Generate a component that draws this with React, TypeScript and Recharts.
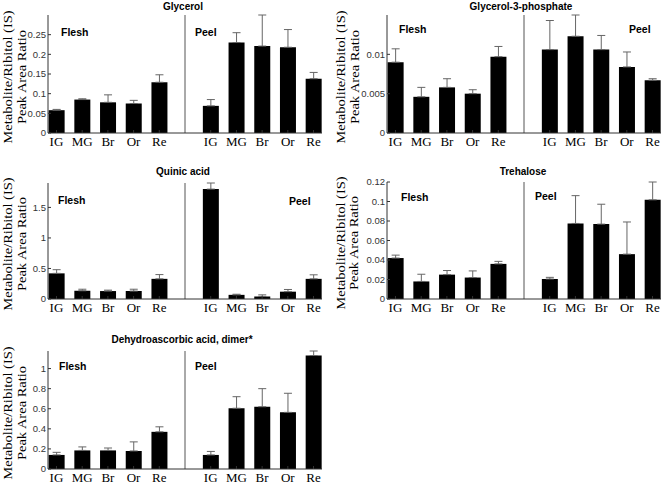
import React from 'react';
import { BarChart, Bar, XAxis, YAxis, ErrorBar, ReferenceLine } from 'recharts';

// cultivar stages, flesh on the left half, peel on the right half
const cultivars = ['IG', 'MG', 'Br', 'Or', 'Re'];
const fleshPos = [1, 2, 3, 4, 5];
const peelPos = [7, 8, 9, 10, 11];

// error bars that run off the top of a panel are cut at the frame
const glycerolFlesh = [0.058, 0.085, 0.078, 0.075, 0.129];
const glycerolFleshSd = [0.002, 0.002, 0.019, 0.008, 0.019];
const glycerolPeel = [0.069, 0.23, 0.221, 0.218, 0.138];
const glycerolPeelSd = [0.016, 0.025, 0.079, 0.045, 0.016];
const glycerolTicks = [0, 0.05, 0.1, 0.15, 0.2, 0.25];

const g3pFlesh = [0.009, 0.0046, 0.0058, 0.005, 0.0097];
const g3pFleshSd = [0.0017, 0.0012, 0.0011, 0.0005, 0.0013];
const g3pPeel = [0.0106, 0.0123, 0.0106, 0.0084, 0.0067];
const g3pPeelSd = [0.0037, 0.0027, 0.0018, 0.0019, 0.0002];
const g3pTicks = [0, 0.005, 0.01];

const quinicFlesh = [0.42, 0.135, 0.13, 0.13, 0.33];
const quinicFleshSd = [0.06, 0.025, 0.015, 0.03, 0.07];
const quinicPeel = [1.8, 0.068, 0.042, 0.12, 0.33];
const quinicPeelSd = [0.1, 0.01, 0.026, 0.036, 0.066];
const quinicTicks = [0, 0.5, 1, 1.5];

const trehaloseFlesh = [0.042, 0.018, 0.025, 0.022, 0.036];
const trehaloseFleshSd = [0.003, 0.0074, 0.0042, 0.0068, 0.0026];
const trehalosePeel = [0.0205, 0.0775, 0.0768, 0.046, 0.1017];
const trehalosePeelSd = [0.0017, 0.0285, 0.0204, 0.033, 0.0183];
const trehaloseTicks = [0, 0.02, 0.04, 0.06, 0.08, 0.1, 0.12];

const dhaFlesh = [0.14, 0.185, 0.185, 0.18, 0.37];
const dhaFleshSd = [0.026, 0.035, 0.024, 0.09, 0.05];
const dhaPeel = [0.14, 0.605, 0.62, 0.564, 1.13];
const dhaPeelSd = [0.035, 0.115, 0.18, 0.19, 0.045];
const dhaTicks = [0, 0.2, 0.4, 0.6, 0.8, 1];

const xTicks = [...fleshPos, ...peelPos];

const buildRows = (flesh: number[], fleshSd: number[], peel: number[], peelSd: number[]) => [
  ...flesh.map((v, i) => ({ x: fleshPos[i], mean: v, err: [0, fleshSd[i]] })),
  ...peel.map((v, i) => ({ x: peelPos[i], mean: v, err: [0, peelSd[i]] })),
];

const xLabel = (v: number) => {
  const i = fleshPos.indexOf(v);
  if (i >= 0) return cultivars[i];
  const j = peelPos.indexOf(v);
  return j >= 0 ? cultivars[j] : '';
};

const sans = '"Liberation Sans", Arial, sans-serif';
const serif = '"Liberation Serif", "Times New Roman", serif';
const boxColor = '#333';

type Box = { l: number; r: number; t: number; b: number };

interface PanelProps {
  title: string;
  rows: { x: number; mean: number; err: number[] }[];
  yMax: number;
  yTicks: number[];
  box: Box;
  titleX: number;
  titleY: number;
  flesh: [number, number];
  peel: [number, number];
  labelX: [number, number];
}

const Panel: React.FC<PanelProps> = ({ title, rows, yMax, yTicks, box, titleX, titleY, flesh, peel, labelX }) => {
  const w = box.r - box.l + 48;
  const h = box.b - box.t + 27;
  const cy = (box.t + box.b) / 2;
  const bold: React.CSSProperties = {
    position: 'absolute',
    fontFamily: sans,
    fontWeight: 'bold',
    fontSize: 10.5,
    whiteSpace: 'nowrap',
    transform: 'translateY(-50%)',
  };
  const ylab: React.CSSProperties = {
    position: 'absolute',
    top: cy,
    fontFamily: serif,
    fontSize: 14.5,
    lineHeight: '15px',
    whiteSpace: 'nowrap',
    transform: 'translate(-50%, -50%) rotate(-90deg) scaleY(0.85)',
  };
  return (
    <>
      <div style={{ position: 'absolute', left: box.l - 47, top: box.t - 5 }}>
        <BarChart width={w} height={h} data={rows} margin={{ top: 5, right: 1, left: 7, bottom: 7 }}>
          <XAxis
            xAxisId="main"
            dataKey="x"
            type="number"
            domain={[0.67, 11.33]}
            ticks={xTicks}
            interval={0}
            height={20}
            tickFormatter={xLabel}
            tickSize={-3}
            tickMargin={7}
            stroke={boxColor}
            tick={{ fill: '#000', fontSize: 13, fontFamily: serif }}
          />
          <XAxis
            xAxisId="top"
            orientation="top"
            type="number"
            domain={[0.67, 11.33]}
            ticks={xTicks}
            height={0}
            tick={false}
            tickSize={-3}
            stroke={boxColor}
          />
          <YAxis
            yAxisId="main"
            domain={[0, yMax]}
            ticks={yTicks}
            allowDataOverflow
            width={40}
            tickSize={-3}
            tickMargin={5}
            stroke={boxColor}
            tick={{ fill: '#333', fontSize: 9.5, fontFamily: sans }}
          />
          <YAxis
            yAxisId="right"
            orientation="right"
            domain={[0, yMax]}
            ticks={yTicks}
            allowDataOverflow
            width={0}
            tick={false}
            tickSize={-3}
            stroke={boxColor}
          />
          <ReferenceLine xAxisId="main" yAxisId="main" x={6} stroke="#555" />
          <Bar xAxisId="main" yAxisId="main" dataKey="mean" fill="#000" barSize={16} isAnimationActive={false}>
            <ErrorBar dataKey="err" direction="y" width={4} stroke="#666" strokeWidth={1} />
          </Bar>
        </BarChart>
      </div>
      <div style={{ ...bold, fontSize: 10, left: titleX, top: titleY, transform: 'translate(-50%, -50%)' }}>{title}</div>
      <div style={{ ...bold, left: flesh[0], top: flesh[1] }}>Flesh</div>
      <div style={{ ...bold, left: peel[0], top: peel[1] }}>Peel</div>
      <div style={{ ...ylab, left: labelX[0] }}>Metabolite/Ribitol (IS)</div>
      <div style={{ ...ylab, left: labelX[1] }}>Peak Area Ratio</div>
    </>
  );
};

export default function App() {
  return (
    <div style={{ position: 'absolute', left: 0, top: 0, width: 662, height: 486, overflow: 'hidden', background: '#fff' }}>
      <Panel
        title="Glycerol"
        rows={buildRows(glycerolFlesh, glycerolFleshSd, glycerolPeel, glycerolPeelSd)}
        yMax={0.3}
        yTicks={glycerolTicks}
        box={{ l: 48, r: 322, t: 15, b: 138 }}
        titleX={183}
        titleY={6}
        flesh={[61, 32]}
        peel={[195, 32]}
        labelX={[8, 22]}
      />
      <Panel
        title="Glycerol-3-phosphate"
        rows={buildRows(g3pFlesh, g3pFleshSd, g3pPeel, g3pPeelSd)}
        yMax={0.015}
        yTicks={g3pTicks}
        box={{ l: 387, r: 661, t: 15, b: 138 }}
        titleX={521}
        titleY={6}
        flesh={[399, 29]}
        peel={[629, 29]}
        labelX={[341, 355]}
      />
      <Panel
        title="Quinic acid"
        rows={buildRows(quinicFlesh, quinicFleshSd, quinicPeel, quinicPeelSd)}
        yMax={1.9}
        yTicks={quinicTicks}
        box={{ l: 48, r: 322, t: 183, b: 304 }}
        titleX={183}
        titleY={171}
        flesh={[58, 200]}
        peel={[289, 201]}
        labelX={[8, 22]}
      />
      <Panel
        title="Trehalose"
        rows={buildRows(trehaloseFlesh, trehaloseFleshSd, trehalosePeel, trehalosePeelSd)}
        yMax={0.12}
        yTicks={trehaloseTicks}
        box={{ l: 387, r: 661, t: 182, b: 304 }}
        titleX={523}
        titleY={171}
        flesh={[401, 197]}
        peel={[535, 196]}
        labelX={[341, 354]}
      />
      <Panel
        title="Dehydroascorbic acid, dimer*"
        rows={buildRows(dhaFlesh, dhaFleshSd, dhaPeel, dhaPeelSd)}
        yMax={1.175}
        yTicks={dhaTicks}
        box={{ l: 48, r: 322, t: 351, b: 474 }}
        titleX={182}
        titleY={339}
        flesh={[59, 366]}
        peel={[195, 366]}
        labelX={[8, 22]}
      />
    </div>
  );
}
